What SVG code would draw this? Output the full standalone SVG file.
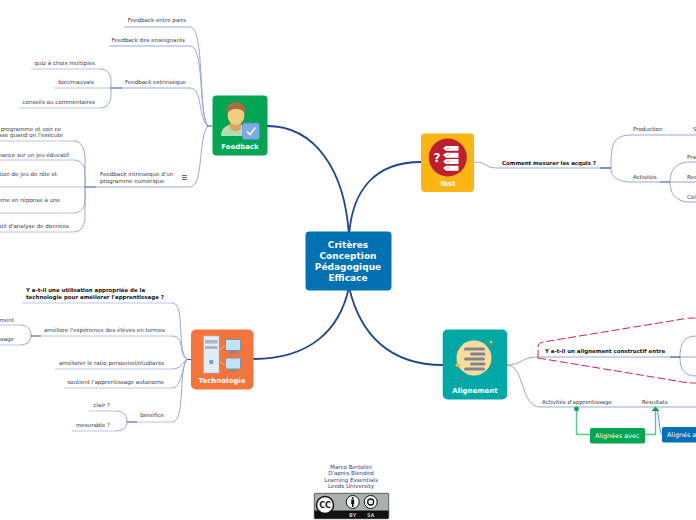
<svg xmlns="http://www.w3.org/2000/svg" width="696" height="520" viewBox="0 0 696 520">
<style>
text{font-family:"DejaVu Sans",Verdana,sans-serif;font-size:5.55px;fill:#3a3a3a}
.b{font-weight:bold;font-size:5.45px;fill:#111}
.n{font-weight:bold;font-size:7px;fill:#fff;text-anchor:middle}
.c{font-weight:bold;font-size:9px;fill:#fff;text-anchor:middle}
.r{text-anchor:end}
.m{text-anchor:middle;fill:#2a4080}
.l{fill:none;stroke:#98a9d2;stroke-width:1}
.u{fill:none;stroke:#b9c5e0;stroke-width:1.2}
.d{fill:none;stroke:#2f50a0;stroke-width:1.2}
.k{fill:none;stroke:#1f4690;stroke-width:1.8}
.g{fill:none;stroke:#58c98a;stroke-width:1.4}
</style>
<rect width="696" height="520" fill="#fff"/>
<g id="connectors">
<path class="k" d="M349,236C345,170 315,126 267,126"/>
<path class="k" d="M349,236C352,190 375,162 421,162"/>
<path class="k" d="M349,287C340,330 310,359 253,359"/>
<path class="k" d="M349,287C360,335 390,365 443,365"/>
<path class="l" d="M124,27H190C205,27 198,115 208,126M109,46H190C205,46 198,115 208,126M122,88H190C203,88 198,120 208,126M96,187H190C204,187 198,135 208,126"/>
<path class="d" d="M207,126H212M186,359.500H191"/>
<path class="u" d="M31,69H100M54,88H111M19,108H100M0,141H74M0,160H74M0,187H85M0,213H74M0,232H74"/>
<path class="l" d="M100,69C108,69 111,75 111,81V95C111,102 108,108 100,108M74,141C82,141 85,150 85,158V216C85,224 82,232 74,232M74,160C81,160 85,166 85,172V201C85,207 81,213 74,213"/>
<path class="d" d="M111,88H122M85,187H96"/>
<path class="l" d="M172,303C186,303 176,350 187,359.500M172,336C185,336 178,354 187,359.500M172,369C182,369 182,362 187,359.500M172,388C182,388 182,366 187,359.500M172,422C186,422 178,368 187,359.500"/>
<path class="u" d="M22,303H172M41,336H172M55,369H172M64,388H172M137,422H172M0,325H20M0,345H20M89,411H116M72,431H116"/>
<path class="l" d="M20,325C27,325 31,329 31,335C31,341 27,345 20,345M116,411C123,411 127,415 127,421C127,427 123,431 116,431"/>
<path class="d" d="M31,336H41M127,422H137"/>
<path class="l" d="M474,162C488,162 484,168 497,168H611M611,168C611,145 612,135 632,135H696M611,168C611,175 615,182 632,182H660"/>
<path class="l" d="M670,182C670,170 676,162 690,162H696M670,182H696M670,182C670,194 676,202 690,202H696"/>
<path class="d" d="M600,168H611M660,182H670"/>
<path class="l" d="M507,365C522,365 520,357 538,357H670M507,365C525,365 520,407 540,407H696"/>
<path class="l" d="M680,357C680,345 683,336 696,336M680,357H696M680,357C680,368 683,376 696,376"/>
<path class="d" d="M670,357H680"/>
<path d="M538,358V347C538,344 540,343 543,342L680,319.500C684,318.500 688,318 696,318M538,358L680,381.500C684,382.500 688,383 696,383" fill="none" stroke="#d2214e" stroke-width="1" stroke-dasharray="8 3"/>
<path class="g" d="M576.500,410V434.500H590M645,434.500H655.500V410"/>
<path d="M657.500,410L660,429C660.500,432 661,434 662,434.500" fill="none" stroke="#5b9bd0" stroke-width="1"/>
<circle cx="576.500" cy="409" r="2.400" fill="#00a651"/>
<path d="M651.500,411L655.500,406.500L659.500,411Z" fill="#00a651"/>
</g>
<g id="central"><rect x="305.500" y="231.500" width="86" height="59" rx="4" fill="#0071b3"/>
<text class="c" x="348" y="248">Critères</text><text class="c" x="348" y="259">Conception</text><text class="c" x="348" y="270">Pédagogique</text><text class="c" x="348" y="281">Efficace</text></g>
<g id="feedback"><rect x="212.500" y="95.500" width="55" height="60" rx="4" fill="#00a651"/>
<path d="M221,136C221,127 228,124 235,124C243,124 250,127 250,136Z" fill="#b5dcae"/>
<path d="M230,117H241V129C238,132 233,132 230,129Z" fill="#d5a764"/>
<ellipse cx="236" cy="115" rx="8.500" ry="10" fill="#f3cc7c"/>
<path d="M227,115C225,105 231,102 236,102C242,102 247,106 245,115C244,110 240,109 236,109C232,109 229,110 227,115Z" fill="#a56d45"/>
<rect x="242.500" y="123" width="17" height="16.500" rx="2" fill="#7da9e8" stroke="#5b88cc" stroke-width=".6"/>
<path d="M247,131.500L250,134.500L255.500,127.500" fill="none" stroke="#fff" stroke-width="1.500"/>
<text class="n" x="240" y="149">Feedback</text></g>
<g id="test"><rect x="421" y="133.500" width="53" height="58.500" rx="4" fill="#fdb515"/>
<circle cx="447.800" cy="157.500" r="19" fill="#be1e2d"/>
<path d="M443,148.300L446,146H458.500V150.800H446ZM443,155L446,152.700H458.500V157.700H446ZM443,161.500L446,159H458.500V164H446ZM443,168L446,165.700H458.500V170.700H446Z" fill="#fff"/>
<path d="M447,148.300h2M447,155h2M447,161.500h2M447,168h2" stroke="#d98a92" stroke-width="1.200"/>
<text x="437" y="162" style="font-size:12px;font-weight:bold;fill:#fff;text-anchor:middle">?</text>
<text class="n" x="447.500" y="186">Test</text></g>
<g id="technologie"><rect x="191" y="329.500" width="62.500" height="60" rx="5" fill="#f4743b"/>
<path d="M219,350L225,346M219,361L225,365" stroke="#d9b9a8" stroke-width="1"/>
<rect x="203.500" y="336" width="15.500" height="37" fill="#e2edf5" stroke="#aebccb" stroke-width=".6"/>
<rect x="205" y="340" width="12.500" height="3.500" fill="#a9b6c4"/><rect x="205" y="346" width="12.500" height="3" fill="#a9b6c4"/>
<circle cx="211.300" cy="362" r="2.200" fill="#6b9ee0"/>
<rect x="225.500" y="339.500" width="15" height="11" fill="#bfe3fa" stroke="#858f9b" stroke-width="1"/><path d="M231,351h4v1.500h2.500v1h-9v-1h2.500z" fill="#7e8a98"/>
<rect x="225.500" y="358" width="15" height="11" fill="#bfe3fa" stroke="#858f9b" stroke-width="1"/><path d="M231,369.500h4v1h2.500v1h-9v-1h2.500z" fill="#7e8a98"/>
<text class="n" x="222" y="383">Technologie</text></g>
<g id="alignement"><rect x="442.700" y="329.500" width="64.500" height="70" rx="5" fill="#00a9a5"/>
<circle cx="474" cy="358" r="17.500" fill="#fddc9a"/>
<g fill="#7e8596"><rect x="464" y="347.500" width="21" height="3" rx="1.500"/><rect x="470" y="352.500" width="15.500" height="3" rx="1.500"/><rect x="464" y="357.500" width="21" height="3" rx="1.500"/><rect x="470" y="362.500" width="15.500" height="3" rx="1.500"/><rect x="464" y="367.500" width="21" height="3" rx="1.500"/></g>
<circle cx="457.500" cy="365" r="2" fill="#f5b81f"/><circle cx="491" cy="342" r="1.500" fill="#f5b81f"/><circle cx="456" cy="349" r="1" fill="#d04a5a"/><circle cx="493" cy="347" r="1" fill="#d04a5a"/><circle cx="462" cy="378" r="1" fill="#d04a5a"/>
<text class="n" x="475" y="393">Alignement</text></g>
<g id="fb1"><text class="r" x="186" y="22">Feedback entre pairs</text></g>
<g id="fb2"><text class="r" x="185" y="42">Feedback des enseignants</text></g>
<g id="fb3"><text class="r" x="186" y="84">Feedback extrinsèque</text></g>
<g id="fb31"><text class="r" x="95" y="65">quiz à choix multiples</text></g>
<g id="fb32"><text class="r" x="94" y="84">bon/mauvais</text></g>
<g id="fb33"><text class="r" x="95" y="104">conseils ou commentaires</text></g>
<g id="fb4"><text x="100" y="176">Feedback intrinsèque d'un</text><text x="100" y="183">programme numérique</text>
<path d="M182,175.500H187M182,177.500H187M182,179.500H187" stroke="#333" stroke-width=".7"/></g>
<g id="fb41"><text class="r" x="61" y="131">programme et voir ce</text><text class="r" x="63" y="137">sse quand on l'exécute</text></g>
<g id="fb42"><text class="r" x="69" y="157">nance sur un jeu éducatif</text></g>
<g id="fb43"><text class="r" x="57" y="176">tion de jeu de rôle et</text></g>
<g id="fb44"><text class="r" x="60" y="202">ème en réponse à une</text></g>
<g id="fb45"><text class="r" x="69" y="228">util d'analyse de données</text></g>
<g id="te1"><text class="b" x="26" y="292">Y a-t-il une utilisation appropriée de la</text><text class="b" x="26" y="299">technologie pour améliorer l'apprentissage ?</text></g>
<g id="te2"><text class="r" x="165" y="332">améliore l'expérience des élèves en termes</text></g>
<g id="te21"><text class="r" x="14" y="322">ment</text></g>
<g id="te22"><text class="r" x="14" y="341">ssage</text></g>
<g id="te3"><text class="r" x="164" y="365">améliorer le ratio personnel/étudiants</text></g>
<g id="te4"><text class="r" x="164" y="384">soutient l'apprentissage autonome</text></g>
<g id="te5"><text class="r" x="164" y="417">bénéfice</text></g>
<g id="te51"><text class="r" x="110" y="407">clair ?</text></g>
<g id="te52"><text class="r" x="110" y="427">mesurable ?</text></g>
<g id="t1"><text class="b" x="502" y="165">Comment mesurer les acquis ?</text></g>
<g id="t2"><text x="633" y="131">Production</text></g>
<g id="t3"><text x="693" y="131">S</text></g>
<g id="t4"><text x="633" y="179">Activités</text></g>
<g id="t5"><text x="687" y="159">Prat</text></g>
<g id="t6"><text x="687" y="179">Rec</text></g>
<g id="t7"><text x="687" y="199">Coll</text></g>
<g id="a1"><text class="b" x="545" y="353">Y a-t-il un alignement constructif entre</text></g>
<g id="a2"><text x="542" y="404">Activités d'apprentissage</text></g>
<g id="a3"><text x="642" y="404">Résultats</text></g>
<g id="a4"><rect x="590" y="428" width="55" height="15.500" rx="2" fill="#00a651"/><text x="595" y="438" style="font-size:6.400px;fill:#fff">Alignées avec</text></g>
<g id="a5"><rect x="662" y="427" width="40" height="15.500" rx="2" fill="#0072b5"/><text x="667" y="437" style="font-size:6.400px;fill:#fff">Alignés a</text></g>
<g id="credit"><text class="m" x="351" y="469">Marco Bertolini</text><text class="m" x="351" y="475">D'après Blended</text><text class="m" x="351" y="482">Learning Essentials</text><text class="m" x="351" y="488">Leeds University</text></g>
<g id="cc"><rect x="314" y="493" width="75" height="26" rx="1.500" fill="#111" stroke="#999" stroke-width=".6"/><rect x="314.500" y="493.500" width="74" height="17" fill="#aab0ab"/>
<circle cx="325" cy="505" r="8.500" fill="#fff" stroke="#111" stroke-width="1.500"/><text x="325" y="508" style="font-size:8px;font-weight:bold;fill:#111;text-anchor:middle">CC</text>
<circle cx="352.700" cy="502" r="6.500" fill="#fff" stroke="#111"/><path d="M351.200,499.500H354.200V504H353.500V507H351.900V504H351.200Z" fill="#111"/><circle cx="352.700" cy="498" r="1" fill="#111"/>
<circle cx="370.700" cy="502" r="6.500" fill="#fff" stroke="#111"/><circle cx="370.700" cy="502" r="3" fill="none" stroke="#111" stroke-width="1.300"/>
<text x="352.700" y="517" style="font-size:5px;font-weight:bold;fill:#bbb;text-anchor:middle">BY</text><text x="370.700" y="517" style="font-size:5px;font-weight:bold;fill:#bbb;text-anchor:middle">SA</text></g>
</svg>
